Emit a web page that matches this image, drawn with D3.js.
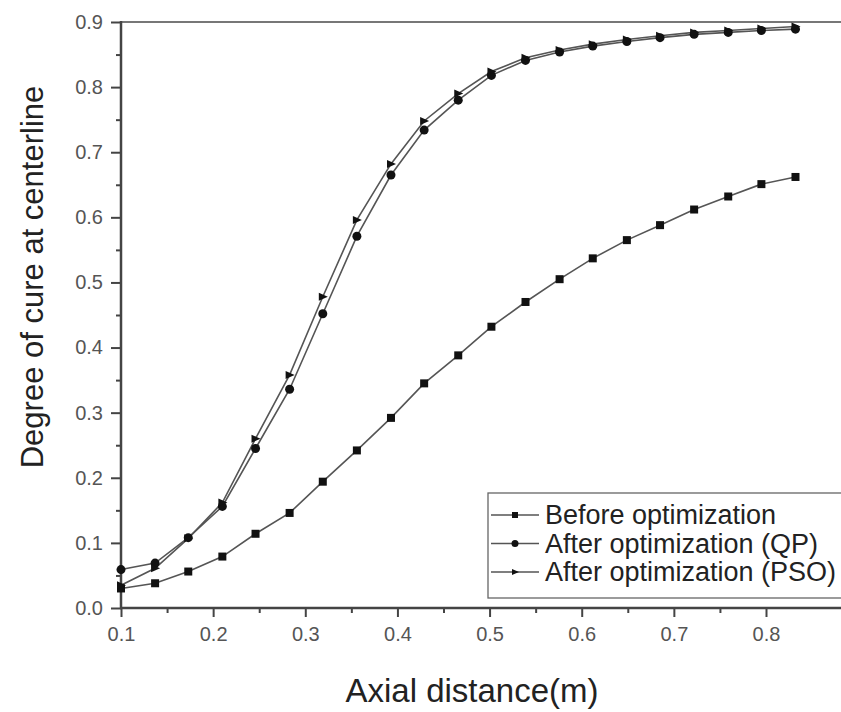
<!DOCTYPE html>
<html>
<head>
<meta charset="utf-8">
<script src="https://cdn.jsdelivr.net/npm/d3@7"></script>
<style>
  body { margin: 0; background: #fff; }
  svg { display: block; }
  text { font-family: "Liberation Sans", Arial, sans-serif; }
</style>
</head>
<body>
<div id="chart"></div>
<script>
// axial positions along the centerline (m)
const axialDistance = [0.1, 0.137, 0.173, 0.21, 0.246, 0.283, 0.319, 0.356, 0.393, 0.429, 0.466,
  0.502, 0.539, 0.576, 0.612, 0.649, 0.685, 0.722, 0.759, 0.795, 0.832];

// degree of cure
const beforeOpt = [0.030, 0.038, 0.056, 0.079, 0.114, 0.146, 0.194, 0.242, 0.292, 0.345, 0.388,
  0.432, 0.470, 0.505, 0.537, 0.565, 0.588, 0.612, 0.632, 0.651, 0.662];
const afterQP = [0.059, 0.069, 0.108, 0.156, 0.245, 0.336, 0.452, 0.571, 0.665, 0.734, 0.780,
  0.818, 0.841, 0.854, 0.863, 0.870, 0.876, 0.881, 0.884, 0.887, 0.889];
const afterPSO = [0.035, 0.061, 0.107, 0.162, 0.260, 0.358, 0.478, 0.596, 0.682, 0.748, 0.790,
  0.824, 0.845, 0.857, 0.866, 0.873, 0.879, 0.884, 0.887, 0.890, 0.893];

const seriesNames = ['Before optimization', 'After optimization (QP)', 'After optimization (PSO)'];
const seriesMarkers = ['square', 'circle', 'triangle'];

const xTicks = [0.1, 0.2, 0.3, 0.4, 0.5, 0.6, 0.7, 0.8];
const xMinor = [0.15, 0.25, 0.35, 0.45, 0.55, 0.65, 0.75];
const yTicks = [0, 0.1, 0.2, 0.3, 0.4, 0.5, 0.6, 0.7, 0.8, 0.9];
const yMinor = [0.05, 0.15, 0.25, 0.35, 0.45, 0.55, 0.65, 0.75, 0.85];

const W = 841, H = 712;
const x = d3.scaleLinear().domain([0.1, 0.8]).range([121, 766]);
const y = d3.scaleLinear().domain([0, 0.9]).range([608, 22]);

const svg = d3.select('#chart').append('svg')
  .attr('width', W)
  .attr('height', H);

svg.append('rect').attr('width', W).attr('height', H).attr('fill', '#fff');

// top frame line
svg.append('line')
  .attr('x1', x(0.1)).attr('x2', W)
  .attr('y1', y(0.9)).attr('y2', y(0.9))
  .attr('stroke', '#777').attr('stroke-width', 2);

// axes
const styleAxis = (g) => {
  g.select('.domain').remove();
  g.selectAll('.tick line').attr('stroke', '#444').attr('stroke-width', 2);
  g.selectAll('.tick text')
    .attr('fill', '#555')
    .attr('font-size', 20);
};

const gy = svg.append('g')
  .attr('transform', `translate(${x(0.1)},0)`)
  .call(d3.axisLeft(y).tickValues(yTicks).tickFormat(d3.format('.1f')).tickSize(10).tickPadding(8));
styleAxis(gy);
const gyMinor = svg.append('g')
  .attr('transform', `translate(${x(0.1)},0)`)
  .call(d3.axisLeft(y).tickValues(yMinor).tickFormat('').tickSize(5));
styleAxis(gyMinor);

const gx = svg.append('g')
  .attr('transform', `translate(0,${y(0)})`)
  .call(d3.axisBottom(x).tickValues(xTicks).tickFormat(d3.format('.1f')).tickSize(9).tickPadding(10));
styleAxis(gx);
const gxMinor = svg.append('g')
  .attr('transform', `translate(0,${y(0)})`)
  .call(d3.axisBottom(x).tickValues(xMinor).tickFormat('').tickSize(5));
styleAxis(gxMinor);

svg.append('line')
  .attr('x1', x(0.1)).attr('x2', x(0.1))
  .attr('y1', y(0.9) - 1).attr('y2', y(0) + 1)
  .attr('stroke', '#444').attr('stroke-width', 2.5);
svg.append('line')
  .attr('x1', x(0.1) - 1).attr('x2', W)
  .attr('y1', y(0)).attr('y2', y(0))
  .attr('stroke', '#444').attr('stroke-width', 2.5);

// axis titles
svg.append('text')
  .attr('x', 472).attr('y', 702)
  .attr('text-anchor', 'middle')
  .attr('font-size', 33)
  .attr('fill', '#222')
  .text('Axial distance(m)');

svg.append('text')
  .attr('transform', `translate(43,${(y(0) + y(0.9)) / 2 - 38}) rotate(-90)`)
  .attr('text-anchor', 'middle')
  .attr('font-size', 31)
  .attr('fill', '#222')
  .text('Degree of cure at centerline');

// markers
const drawMarker = (g, type, cx, cy, s) => {
  if (type === 'square') {
    g.append('rect')
      .attr('x', cx - s / 2).attr('y', cy - s / 2)
      .attr('width', s).attr('height', s)
      .attr('fill', '#111');
  } else if (type === 'circle') {
    g.append('circle')
      .attr('cx', cx).attr('cy', cy).attr('r', s / 2 + 0.5)
      .attr('fill', '#111');
  } else {
    g.append('path')
      .attr('d', `M${cx - s / 2},${cy - s / 2}L${cx + s / 2 + 1},${cy}L${cx - s / 2},${cy + s / 2}Z`)
      .attr('fill', '#111');
  }
};

const allSeries = [beforeOpt, afterQP, afterPSO];
const line = d3.line()
  .x(d => x(d[0]))
  .y(d => y(d[1]));

const gLines = svg.append('g');
const gMarks = svg.append('g');

allSeries.forEach((vals, i) => {
  const pts = axialDistance.map((d, j) => [d, vals[j]]);
  gLines.append('path')
    .attr('d', line(pts))
    .attr('fill', 'none')
    .attr('stroke', '#555')
    .attr('stroke-width', 1.6);
  pts.forEach(p => drawMarker(gMarks, seriesMarkers[i], x(p[0]), y(p[1]), 8));
});

// legend
const legend = svg.append('g');
legend.append('rect')
  .attr('x', 488).attr('y', 493)
  .attr('width', 370).attr('height', 105)
  .attr('fill', '#fff')
  .attr('stroke', '#666')
  .attr('stroke-width', 1.3);

seriesNames.forEach((name, i) => {
  const ly = 515 + i * 28.5;
  legend.append('line')
    .attr('x1', 491).attr('x2', 539)
    .attr('y1', ly).attr('y2', ly)
    .attr('stroke', '#555').attr('stroke-width', 1.6);
  drawMarker(legend, seriesMarkers[i], 515, ly, 6);
  legend.append('text')
    .attr('x', 545).attr('y', ly)
    .attr('dy', '0.35em')
    .attr('font-size', 27)
    .attr('fill', '#222')
    .text(name);
});
</script>
</body>
</html>
